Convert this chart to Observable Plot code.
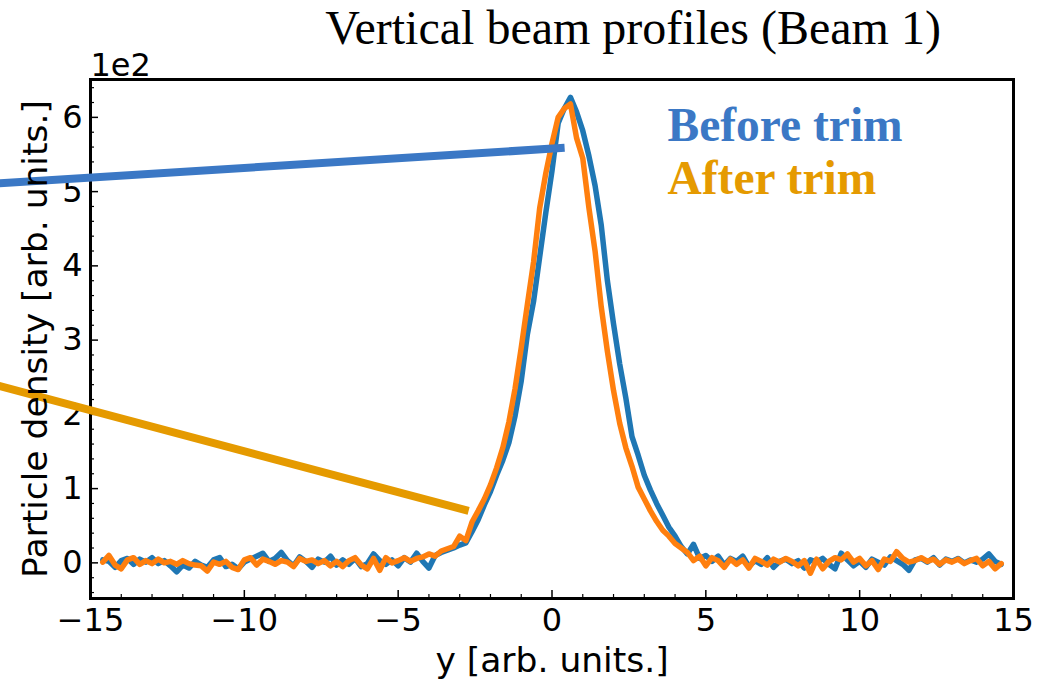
<!DOCTYPE html>
<html>
<head>
<meta charset="utf-8">
<script src="https://cdn.jsdelivr.net/npm/d3@7"></script>
<script src="https://cdn.jsdelivr.net/npm/@observablehq/plot@0.6"></script>
<style>
  html, body { margin: 0; padding: 0; background: #ffffff; }
  #chart { width: 1039px; height: 684px; overflow: hidden; }
</style>
</head>
<body>
<div id="chart"></div>
<script>
// ---- data ----
const xs = [
  -14.6,-14.4,-14.2,-14.0,-13.8,-13.6,-13.4,-13.2,-13.0,-12.8,
  -12.6,-12.4,-12.2,-12.0,-11.8,-11.6,-11.4,-11.2,-11.0,-10.8,
  -10.6,-10.4,-10.2,-10.0,-9.8,-9.6,-9.4,-9.2,-9.0,-8.8,
  -8.6,-8.4,-8.2,-8.0,-7.8,-7.6,-7.4,-7.2,-7.0,-6.8,
  -6.6,-6.4,-6.2,-6.0,-5.8,-5.6,-5.4,-5.2,-5.0,-4.8,
  -4.6,-4.4,-4.2,-4.0,-3.8,-3.6,-3.4,-3.2,-3.0,-2.8,
  -2.6,-2.4,-2.2,-2.0,-1.8,-1.6,-1.4,-1.2,-1.0,-0.8,
  -0.6,-0.4,-0.2,0.0,0.2,0.4,0.6,0.8,1.0,1.2,
  1.4,1.6,1.8,2.0,2.2,2.4,2.6,2.8,3.0,3.2,
  3.4,3.6,3.8,4.0,4.2,4.4,4.6,4.8,5.0,5.2,
  5.4,5.6,5.8,6.0,6.2,6.4,6.6,6.8,7.0,7.2,
  7.4,7.6,7.8,8.0,8.2,8.4,8.6,8.8,9.0,9.2,
  9.4,9.6,9.8,10.0,10.2,10.4,10.6,10.8,11.0,11.2,
  11.4,11.6,11.8,12.0,12.2,12.4,12.6,12.8,13.0,13.2,
  13.4,13.6,13.8,14.0,14.2,14.4,14.6
];
const beforeTrim = [
  4,2,-6,3,6,-2,5,1,7,-1,
  3,-4,-12,-3,-7,2,-3,-6,4,7,
  -5,-2,-8,1,5,9,13,2,6,14,
  3,-4,8,2,-6,5,1,9,-3,4,
  -2,6,-5,-1,12,3,-2,4,-4,7,
  1,13,2,-7,10,14,17,20,24,27,
  42,58,78,96,118,138,162,198,245,308,
  352,412,472,528,592,612,627,607,582,548,
  508,455,380,322,268,222,170,145,118,98,
  80,64,48,36,22,12,25,6,10,2,
  9,-3,6,2,9,-5,3,-2,7,-6,
  2,5,-1,3,-7,4,1,6,-2,-8,
  13,4,-4,2,-6,5,1,-3,8,3,
  -2,-10,4,6,1,7,-3,5,2,6,
  0,4,1,5,12,2,-2
];
const afterTrim = [
  1,10,-3,-8,4,7,-2,3,-1,5,
  0,2,-2,3,-1,-3,-4,-11,1,-2,
  2,-6,-9,4,7,-3,5,2,-2,3,
  1,-5,6,2,4,-1,3,-4,2,-5,
  3,7,-3,-8,6,-10,7,0,3,7,
  2,6,8,12,9,16,19,22,36,30,
  55,70,86,105,128,155,190,235,290,348,
  405,478,525,565,600,612,618,572,545,478,
  420,345,285,232,188,155,130,102,86,70,
  56,44,36,26,20,14,3,9,-4,7,
  3,-6,5,-2,4,-7,6,2,-3,5,
  1,6,2,-4,3,-14,5,-8,2,7,
  4,12,1,6,-4,3,-9,5,2,15,
  6,1,3,7,2,5,-2,4,1,5,
  -1,3,6,-4,2,-8,-1
];
const xMajorTicks = [-15, -10, -5, 0, 5, 10, 15];
const xMinorTicks = [-14,-13,-12,-11,-9,-8,-7,-6,-4,-3,-2,-1,1,2,3,4,6,7,8,9,11,12,13,14];
const yMajorTicks = [0, 100, 200, 300, 400, 500, 600];
const yMinorTicks = [-40,-20,20,40,60,80,120,140,160,180,220,240,260,280,320,340,360,380,420,440,460,480,520,540,560,580,620,640];
const titleText = ["Vertical beam profiles (Beam 1)"];
const legendLabels = ["Before trim", "After trim"];
// annotation pointers (data units), from the left edge toward each curve
const pointers = [
  {x1: -18.4, y1: 510, x2: 0.41, y2: 559, key: "before"},
  {x1: -18.4, y1: 243, x2: -2.71, y2: 70, key: "after"}
];

// ---- build ----
const rows = xs.map((x, i) => ({x, before: beforeTrim[i], after: afterTrim[i]}));
const minus = d => d < 0 ? "\u2212" + (-d) : String(d);
const W = 1039, H = 684, mT = 79, mB = 86, mL = 90, mR = 26;
const fw = W - mL - mR, fh = H - mT - mB;
const pointerColor = {before: "#3b78c5", after: "#e59a00"};

const chart = Plot.plot({
  width: W, height: H,
  marginTop: mT, marginBottom: mB, marginLeft: mL, marginRight: mR,
  x: {domain: [-15, 15], label: null},
  y: {domain: [-48, 651], label: null},
  style: {fontFamily: "'DejaVu Sans', sans-serif", fontSize: "32px", background: "#ffffff", color: "black"},
  marks: [
    // inward ticks
    Plot.tickY(yMajorTicks, {y: d => d, insetRight: fw - 8, stroke: "black", strokeWidth: 1.5}),
    Plot.tickY(yMinorTicks, {y: d => d, insetRight: fw - 4, stroke: "black", strokeWidth: 1.2}),
    Plot.tickX(xMajorTicks, {x: d => d, insetTop: fh - 8, stroke: "black", strokeWidth: 1.5}),
    Plot.tickX(xMinorTicks, {x: d => d, insetTop: fh - 4, stroke: "black", strokeWidth: 1.2}),
    Plot.axisX(xMajorTicks, {tickSize: 0, tickPadding: 10, tickFormat: minus, label: null, fontSize: 32}),
    Plot.axisY(yMajorTicks, {tickSize: 0, tickPadding: 8, tickFormat: d => String(d / 100), label: null, fontSize: 32}),
    // series
    Plot.line(rows, {x: "x", y: "before", stroke: "#1f77b4", strokeWidth: 5.5, strokeLinejoin: "round"}),
    Plot.line(rows, {x: "x", y: "after", stroke: "#ff7f0e", strokeWidth: 5.5, strokeLinejoin: "round"}),
    Plot.frame({stroke: "black", strokeWidth: 3}),
    // pointers
    Plot.link(pointers, {x1: "x1", y1: "y1", x2: "x2", y2: "y2", stroke: d => pointerColor[d.key], strokeWidth: 8, clip: false}),
    // legend texts
    Plot.text([legendLabels[0]], {text: d => d, frameAnchor: "top-left", dx: 577, dy: 61, lineAnchor: "bottom", textAnchor: "start",
      fontFamily: "'Liberation Serif', serif", fontWeight: "bold", fontSize: 47.5, fill: pointerColor.before}),
    Plot.text([legendLabels[1]], {text: d => d, frameAnchor: "top-left", dx: 577, dy: 114, lineAnchor: "bottom", textAnchor: "start",
      fontFamily: "'Liberation Serif', serif", fontWeight: "bold", fontSize: 47.5, fill: pointerColor.after}),
    // title
    Plot.text(titleText, {text: d => d, frameAnchor: "top", dx: 81, dy: -36, lineAnchor: "bottom",
      fontFamily: "'Liberation Serif', serif", fontSize: 48, fill: "black"}),
    // exponent label
    Plot.text(["1e2"], {text: d => d, frameAnchor: "top-left", dx: 0, dy: -4, lineAnchor: "bottom", textAnchor: "start",
      fontSize: 32, fill: "black"}),
    // axis labels
    Plot.text(["y [arb. units.]"], {text: d => d, frameAnchor: "bottom", dy: 73, lineAnchor: "bottom", textAnchor: "middle", fontSize: 34.5, fill: "black"}),
    Plot.text(["Particle density [arb. units.]"], {text: d => d, frameAnchor: "left", dx: -44, dy: 0, rotate: -90, lineAnchor: "bottom", textAnchor: "middle", fontSize: 34.5, fill: "black"})
  ]
});
document.getElementById("chart").appendChild(chart);
</script>
</body>
</html>
